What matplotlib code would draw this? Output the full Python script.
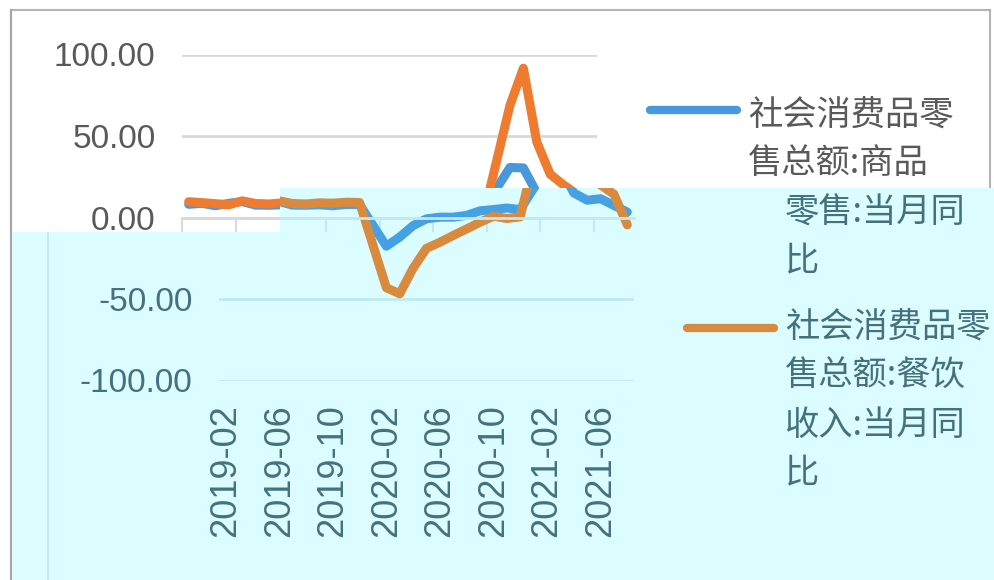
import matplotlib
matplotlib.use("Agg")
import matplotlib.pyplot as plt
from matplotlib.patches import Polygon
from matplotlib.lines import Line2D
from matplotlib.ticker import FormatStrFormatter

# monthly data, Jan 2020 / Jan 2021 have no separate value (Jan-Feb combined)
months = ["2019-02", "2019-03", "2019-04", "2019-05", "2019-06", "2019-07",
          "2019-08", "2019-09", "2019-10", "2019-11", "2019-12", "2020-01",
          "2020-02", "2020-03", "2020-04", "2020-05", "2020-06", "2020-07",
          "2020-08", "2020-09", "2020-10", "2020-11", "2020-12", "2021-01",
          "2021-02", "2021-03", "2021-04", "2021-05", "2021-06", "2021-07",
          "2021-08"]
goods = [8.1, 8.7, 7.2, 8.7, 9.8, 7.6, 7.5, 7.8, 7.2, 8.0, 8.0, None,
         -17.6, -12.0, -5.0, -0.8, 0.2, 0.2, 1.3, 4.1, 4.9, 5.8, 4.9, None,
         30.7, 30.4, 15.1, 10.6, 11.5, 7.4, 3.3]
catering = [9.7, 9.1, 8.5, 7.8, 10.2, 8.6, 8.3, 9.0, 8.8, 9.4, 9.2, None,
            -43.1, -46.8, -31.1, -18.9, -15.2, -11.0, -7.0, -2.9, 0.8, -0.6, 0.4, None,
            68.9, 91.6, 46.4, 26.6, 20.0, 14.3, -4.5]
yticks = [-100, -50, 0, 50, 100]
label_every = 4
legend_goods = ["社会消费品零", "售总额:商品", "零售:当月同", "比"]
legend_catering = ["社会消费品零", "售总额:餐饮", "收入:当月同", "比"]

W, H = 994, 580
plt.rcParams['font.family'] = ['Liberation Sans', 'Noto Sans CJK SC', 'DejaVu Sans']
cjk = ['Noto Sans CJK SC', 'DejaVu Sans']

fig = plt.figure(figsize=(W / 100, H / 100), dpi=100, facecolor='white')


def fx(x):
    return x / W


def fy(y):
    return 1 - y / H


# the screenshot is two copies of one chart: the lower one tinted cyan and shifted right
cyan = Polygon([(fx(12), fy(232)), (fx(280), fy(232)), (fx(280), fy(188)),
                (fx(994), fy(188)), (fx(994), fy(580)), (fx(12), fy(580))],
               closed=True, transform=fig.transFigure, facecolor='#dcfdff',
               edgecolor='none', zorder=2)
fig.add_artist(cyan)


def in_lower(x, y):
    return y >= (232 if x < 280 else 188)


def fig_line(xs, ys, color, lw, z, clip=None, **kw):
    ln = Line2D([fx(x) for x in xs], [fy(y) for y in ys], transform=fig.transFigure,
                color=color, lw=lw, zorder=z, **kw)
    fig.add_artist(ln)
    if clip is not None:
        ln.set_clip_path(clip)
    return ln


upper_style = dict(blue='#4a98dc', orange='#ee7b30', grid='#d9d9d9', text='#595959', frame='#b4b4b4')
lower_style = dict(blue='#46a1e4', orange='#d98a3e', grid='#c2e9f1', text='#45707e', frame='#c4e8ef')


def draw_layer(dx, z, st, lower):
    clip = cyan if lower else None
    ax = fig.add_axes([fx(182 + dx), fy(380.5), 415 / W, 326 / H], zorder=z)
    ax.set_facecolor('none')

    for vals, col in [(goods, st['blue']), (catering, st['orange'])]:
        xs = [i for i, v in enumerate(vals) if v is not None]
        ys = [v for v in vals if v is not None]
        ax.plot(xs, ys, color=col, lw=6.5, solid_joinstyle='round', solid_capstyle='round')

    ax.set_xlim(-0.5, len(months) - 0.5)
    ax.set_ylim(-100, 100)
    ax.set_yticks(yticks)
    ax.yaxis.set_major_formatter(FormatStrFormatter('%.2f'))
    ax.yaxis.grid(True, color=st['grid'], lw=2)
    ax.tick_params(axis='y', length=0, pad=19, labelsize=24, labelcolor=st['text'])
    for s in ['left', 'right', 'top']:
        ax.spines[s].set_visible(False)
    ax.spines['bottom'].set_position(('data', 0))
    ax.spines['bottom'].set_color(st['grid'])
    ax.spines['bottom'].set_linewidth(2)
    ax.set_xticks([i - 0.5 for i in range(0, len(months), label_every)])
    ax.tick_params(axis='x', length=10, width=1.5, direction='out', color=st['grid'],
                   labelbottom=False)

    # category labels sit at the bottom of the plot, not on the zero line
    sec = ax.secondary_xaxis('bottom')
    pos = list(range(0, len(months), label_every))
    sec.set_xticks(pos, [months[i] for i in pos])
    sec.tick_params(length=0, pad=17, labelsize=26, labelrotation=90,
                    labelcolor=st['text'], labelbottom=lower)
    sec.spines['bottom'].set_visible(False)

    # each copy only shows the y labels of its own part
    for t, v in zip(ax.yaxis.get_major_ticks(), yticks):
        t.label1.set_visible((v < 0) == lower)

    # legend, drawn by hand so the wrapped rows sit like in the original
    entries = [(legend_goods, st['blue'], 110, 115), (legend_catering, st['orange'], 328, 327)]
    for rows, col, hy, ty in entries:
        fig_line([650 + dx, 737 + dx], [hy, hy], col, 6, z + 0.5, clip, solid_capstyle='round')
        for k, row in enumerate(rows):
            x, y = 748 + dx, ty + 49 * k
            t = fig.text(fx(x), fy(y), row, ha='left', va='center', fontsize=24.7,
                         color=st['text'], family=cjk, zorder=z + 0.5)
            t.set_visible(in_lower(x, y) == lower)

    # chart frame
    fig_line([11 + dx, 990 + dx], [10, 10], st['frame'], 1.5, z + 0.5, clip)
    fig_line([990 + dx, 990 + dx], [10, 580], st['frame'], 1.5, z + 0.5, clip)
    fig_line([11 + dx, 11 + dx], [10, 580], st['frame'], 1.5, z + 0.5, clip)

    if clip is not None:
        for ln in ax.get_lines():
            ln.set_clip_path(clip)
        ax.spines['bottom'].set_clip_path(clip)
        for t in ax.xaxis.get_major_ticks():
            t.tick1line.set_clip_path(clip)
        for t in ax.yaxis.get_major_ticks():
            t.gridline.set_clip_path(clip)
    return ax


draw_layer(0, 1, upper_style, lower=False)
draw_layer(37, 3, lower_style, lower=True)

# outer left border stays visible over both parts
fig_line([11, 11], [10, 580], '#a6a6a6', 1.5, 5)

fig.savefig("out.png", dpi=100, facecolor='white')
